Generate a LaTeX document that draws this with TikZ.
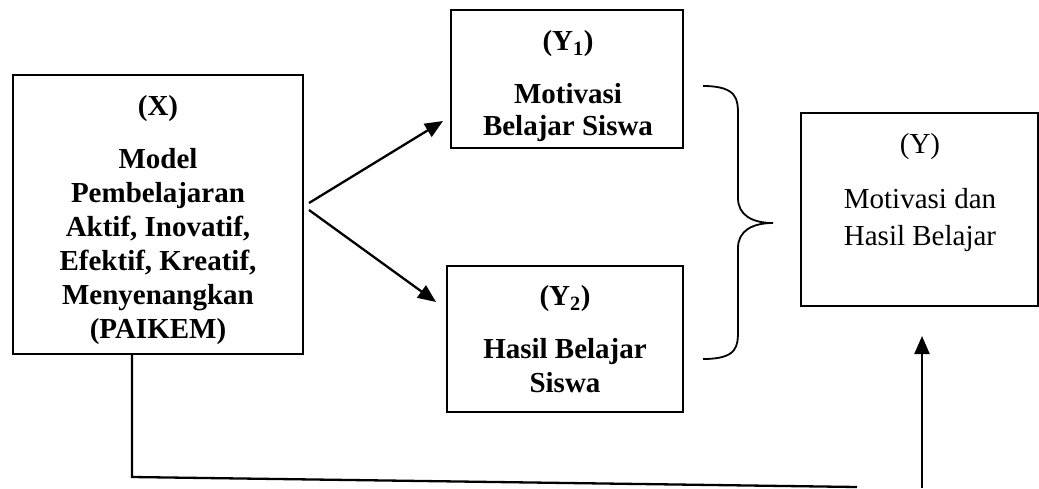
\documentclass[tikz,border=0pt]{standalone}
\usepackage{fontspec}
\setmainfont{Liberation Serif}
\usetikzlibrary{arrows.meta}
\begin{document}
\begin{tikzpicture}[x=1pt,y=-1pt,
  box/.style={draw, line width=2pt, inner sep=0pt},
  btxt/.style={align=center, inner sep=0pt, anchor=north, font=\fontsize{29}{34}\selectfont\bfseries},
  rtxt/.style={align=center, inner sep=0pt, anchor=north, font=\fontsize{29}{37}\selectfont},
  arr/.style={line width=2.3pt, -{Triangle[length=18pt,width=15pt]}},
  conn/.style={line width=2.3pt}]
\useasboundingbox (0,0) rectangle (1039,488);
% boxes
\node[box, minimum width=290pt, minimum height=279pt] (xb) at (158,214.5) {};
\node[box, minimum width=232pt, minimum height=138pt] (y1b) at (567,79) {};
\node[box, minimum width=236pt, minimum height=146pt] (y2b) at (565,339) {};
\node[box, line width=1.6pt, minimum width=237pt, minimum height=193pt] (yb) at (919.5,209.5) {};
% texts
\node[btxt] (xt) at (158,95) {(X)\\[19pt]Model\\Pembelajaran\\Aktif, Inovatif,\\Efektif, Kreatif,\\Menyenangkan\\(PAIKEM)};
\node[btxt] (y1t) at (568,30) {(Y\textsubscript{1})\\[19pt]Motivasi\\[-2pt]Belajar Siswa};
\node[btxt] (y2t) at (565,285) {(Y\textsubscript{2})\\[19pt]Hasil Belajar\\Siswa};
\node[rtxt] (yt) at (920,133) {(Y)\\[18pt]Motivasi dan\\Hasil Belajar};
% arrows
\coordinate (a1s) at (309,203);
\coordinate (a1e) at (443,121);
\coordinate (a2s) at (309,210);
\coordinate (a2e) at (436,302);
\draw[arr] (a1s) -- (a1e);
\draw[arr] (a2s) -- (a2e);
% brace
\draw[line width=1.8pt] (703,86) .. controls (738,86) and (738,100) .. (738,115)
  -- (738,198) .. controls (738,215) and (752,223) .. (773,223)
  .. controls (752,223) and (738,231) .. (738,248)
  -- (738,330) .. controls (738,346) and (738,359) .. (703,359);
% bottom connector
\coordinate (bl) at (132,477);
\coordinate (br) at (857,487);
\draw[conn] (xb.south -| bl) -- (bl) -- (br);
\coordinate (vb) at (922,488);
\coordinate (vt) at (922,336);
\draw[arr] (vb) -- (vt);
\end{tikzpicture}
\end{document}
